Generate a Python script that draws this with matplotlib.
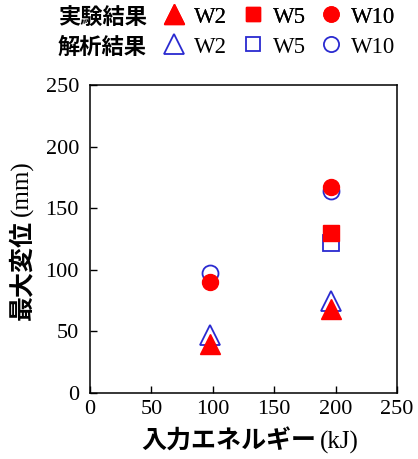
import matplotlib
matplotlib.use("Agg")
import matplotlib.pyplot as plt
from matplotlib.lines import Line2D

# data
x_vals = [98, 196]

exp_w2 = [40, 68]
exp_w5 = [None, 130]
exp_w10 = [90, 167]

ana_w2 = [47, 75]
ana_w5 = [None, 122]
ana_w10 = [97, 164]

xticks = [0, 50, 100, 150, 200, 250]
yticks = [0, 50, 100, 150, 200, 250]
labels = ["W2", "W5", "W10"]

RED = "#ff0000"
BLUE = "#2a2ad0"
SERIF = ["Liberation Serif", "DejaVu Serif"]
JP = ["Noto Sans CJK JP", "DejaVu Sans"]

W, H = 418, 459
fig = plt.figure(figsize=(W / 100, H / 100), dpi=100)
ax = fig.add_axes([90 / W, 1 - 393 / H, 307 / W, 308 / H])


def pts(xs, ys):
    pairs = [(x, y) for x, y in zip(xs, ys) if y is not None]
    return [p[0] for p in pairs], [p[1] for p in pairs]


marker_style = {
    "W2": ("^", 15),
    "W5": ("s", 11),
    "W10": ("o", 11.5),
}

# analysis (open, blue) first, experiment (filled, red) on top
for key, ys in zip(labels, [ana_w2, ana_w5, ana_w10]):
    m, ms = marker_style[key]
    xs, yy = pts(x_vals, ys)
    ax.plot(xs, yy, linestyle="none", marker=m, markersize=ms,
            markerfacecolor="white", markeredgecolor=BLUE, markeredgewidth=1.3)
for key, ys in zip(labels, [exp_w2, exp_w5, exp_w10]):
    m, ms = marker_style[key]
    xs, yy = pts(x_vals, ys)
    ax.plot(xs, yy, linestyle="none", marker=m, markersize=ms,
            markerfacecolor=RED, markeredgecolor=RED)

ax.set_xlim(0, 250)
ax.set_ylim(0, 250)
ax.set_xticks(xticks)
ax.set_yticks(yticks)
ax.tick_params(direction="in", length=5, width=1, labelsize=16)
ax.tick_params(axis="y", pad=8)
ax.tick_params(axis="x", pad=5)
for lab in ax.get_xticklabels() + ax.get_yticklabels():
    lab.set_family(SERIF)
for sp in ax.spines.values():
    sp.set_linewidth(1.1)

# axis labels: Japanese part + serif unit
fig.text(316 / W, 1 - 442 / H, "入力エネルギー", family=JP, fontsize=18,
         fontweight="bold", ha="right", va="center")
fig.text(320 / W, 1 - 442 / H, "(kJ)", family=SERIF, fontsize=18,
         ha="left", va="center")
fig.text(22 / W, 1 - 220 / H, "最大変位", family=JP, fontsize=18,
         fontweight="bold", rotation=90, ha="center", va="top")
fig.text(22 / W, 1 - 216 / H, "(mm)", family=SERIF, fontsize=18,
         rotation=90, ha="center", va="bottom")

# legend rows
def handles(face, edge, mew):
    return [Line2D([], [], linestyle="none", marker=marker_style[k][0],
                   markersize=marker_style[k][1] * 0.95,
                   markerfacecolor=face, markeredgecolor=edge,
                   markeredgewidth=mew)
            for k in labels]


leg_kw = dict(ncol=3, frameon=False, handlelength=1.0, handletextpad=0.37,
              columnspacing=0.6, borderpad=0, borderaxespad=0,
              prop={"family": SERIF, "size": 16.5})
leg1 = fig.legend(handles(RED, RED, 1.0), labels, loc="center left",
                  bbox_to_anchor=(163 / W, 1 - 17 / H), **leg_kw)
fig.add_artist(leg1)
fig.legend(handles("white", BLUE, 1.3), labels, loc="center left",
           bbox_to_anchor=(163 / W, 1 - 47 / H), **leg_kw)
fig.text(147 / W, 1 - 17 / H, "実験結果", family=JP, fontsize=16,
         fontweight="bold", ha="right", va="center")
fig.text(147 / W, 1 - 47 / H, "解析結果", family=JP, fontsize=16,
         fontweight="bold", ha="right", va="center")

fig.savefig("out.png", dpi=100)
